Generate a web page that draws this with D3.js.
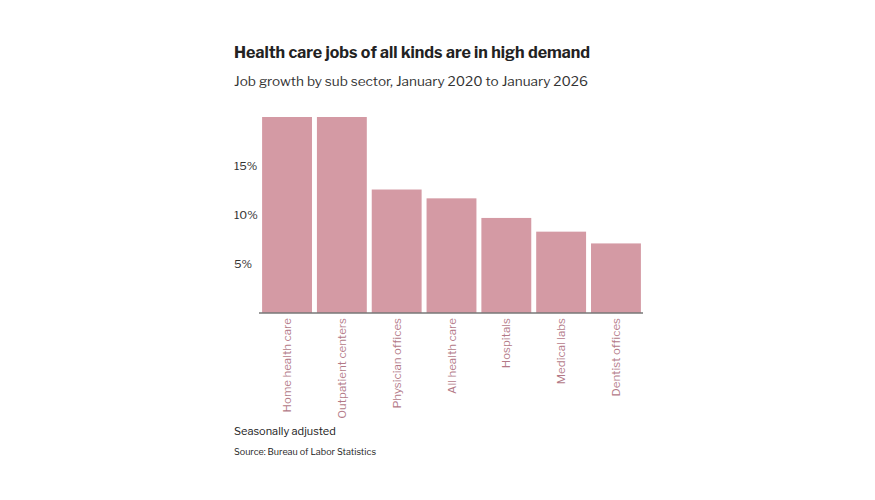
<!DOCTYPE html>
<html>
<head>
<meta charset="utf-8">
<script src="https://d3js.org/d3.v7.min.js"></script>
<style>
  body { margin: 0; background: #fff; }
  text { font-family: "Libre Franklin", "Roboto", sans-serif; }
</style>
</head>
<body>
<svg width="875" height="500"></svg>
<script>
// Data
var categories = ["Home health care", "Outpatient centers", "Physician offices", "All health care", "Hospitals", "Medical labs", "Dentist offices"];
var growth = [20.0, 20.0, 12.6, 11.7, 9.7, 8.3, 7.1];
var yTicks = [5, 10, 15];

var svg = d3.select("svg");

svg.append("text").attr("x", 234).attr("y", 58)
    .attr("font-size", 16).attr("font-weight", 700).attr("fill", "#222")
    .text("Health care jobs of all kinds are in high demand");
svg.append("text").attr("x", 234).attr("y", 86)
    .attr("font-size", 13.6).attr("fill", "#333")
    .text("Job growth by sub sector, January 2020 to January 2026");

// Scales
var x = d3.scaleBand().domain(categories).range([261, 642]).paddingInner(0.09).paddingOuter(0.02);
var y = d3.scaleLinear().domain([0, 20]).range([313, 117]);

svg.append("g").selectAll("rect")
    .data(categories)
    .enter().append("rect")
    .attr("x", function(d) { return x(d); })
    .attr("width", x.bandwidth())
    .attr("y", function(d, i) { return y(growth[i]); })
    .attr("height", function(d, i) { return y(0) - y(growth[i]); })
    .attr("fill", "#d49aa4");

svg.append("line").attr("x1", 259).attr("x2", 643)
    .attr("y1", y(0)).attr("y2", y(0))
    .attr("stroke", "#777").attr("stroke-width", 1.5);

svg.append("g").selectAll("text")
    .data(yTicks)
    .enter().append("text")
    .attr("x", 234).attr("y", function(d) { return y(d) + 4; })
    .attr("font-size", 11.5).attr("fill", "#333")
    .text(function(d) { return d + "%"; });

svg.append("g").selectAll("text")
    .data(categories)
    .enter().append("text")
    .attr("transform", function(d) { return "translate(" + (x(d) + x.bandwidth() / 2 + 4) + ",318) rotate(-90)"; })
    .attr("text-anchor", "end")
    .attr("font-size", 11.5).attr("fill", "#b37987")
    .text(function(d) { return d; });

svg.append("text").attr("x", 234).attr("y", 435)
    .attr("font-size", 11).attr("fill", "#222").text("Seasonally adjusted");
svg.append("text").attr("x", 234).attr("y", 455)
    .attr("font-size", 9).attr("fill", "#222").text("Source: Bureau of Labor Statistics");
</script>
</body>
</html>
